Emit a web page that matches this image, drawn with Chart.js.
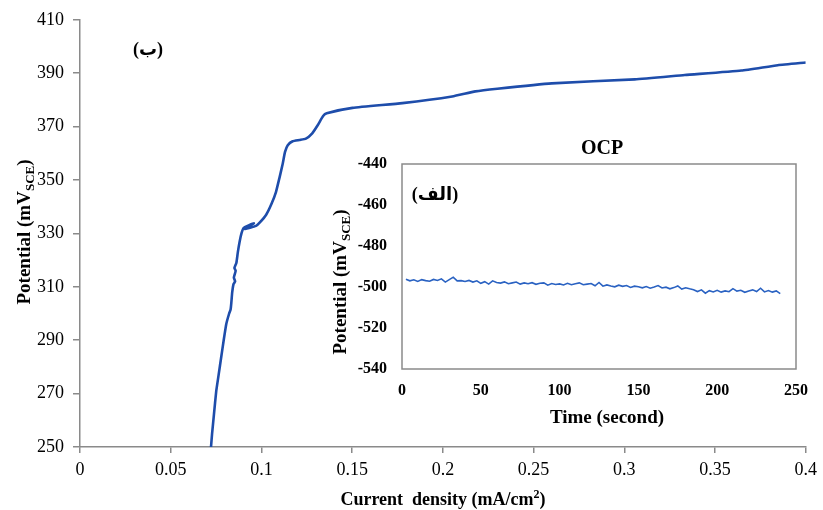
<!DOCTYPE html>
<html>
<head>
<meta charset="utf-8">
<script src="https://cdn.jsdelivr.net/npm/chart.js@4.4.1/dist/chart.umd.min.js"></script>
<style>
  html, body { margin: 0; padding: 0; background: #fff; }
  #wrap { position: relative; width: 823px; height: 510px; background: #fff; }
  #main { position: absolute; left: 0; top: 0; }
  #inset { position: absolute; left: 320px; top: 125px; }
</style>
</head>
<body>
<div id="wrap">
  <canvas id="main" width="823" height="510"></canvas>
  <canvas id="inset" width="500" height="310"></canvas>
</div>
<script>
// ---------- Main polarization curve (ب) ----------
const currentDensity = [
  0.0722, 0.0728, 0.0738, 0.0751, 0.0764, 0.0778, 0.0792, 0.0806, 0.0822, 0.0830,
  0.0834, 0.0839, 0.0846, 0.0855, 0.0848, 0.0858, 0.0851, 0.0862, 0.0870, 0.0880,
  0.0890, 0.0902, 0.0958, 0.0910, 0.0970, 0.0990, 0.1026, 0.1055, 0.1080, 0.1100,
  0.1117, 0.1130, 0.1145, 0.1172, 0.1210, 0.1245, 0.1280, 0.1310, 0.1340, 0.1360,
  0.1502, 0.1777, 0.2051, 0.2179, 0.2300, 0.2600, 0.3058, 0.3333, 0.3645, 0.3846,
  0.4000
];
const potential = [
  250.0, 255.0, 262.0, 271.0, 277.0, 283.5, 290.0, 296.0, 300.0, 301.5,
  304.0, 308.0, 311.0, 312.0, 313.5, 316.0, 317.0, 319.0, 323.0, 327.0,
  330.0, 332.0, 333.8, 331.6, 332.8, 334.0, 337.0, 341.0, 345.5, 351.0,
  356.0, 360.5, 363.0, 364.5, 365.0, 365.5, 367.5, 370.5, 374.0, 375.0,
  377.0, 378.8, 381.3, 383.2, 384.2, 386.2, 387.7, 389.3, 391.0, 393.0,
  394.0
];
const mainXTicks = [0, 0.05, 0.1, 0.15, 0.2, 0.25, 0.3, 0.35, 0.4];
const mainYTicks = [250, 270, 290, 310, 330, 350, 370, 390, 410];

// ---------- Inset OCP curve (الف) ----------
const ocpTime = [
  2.5, 5, 7.5, 10, 12.5, 15, 17.5, 20, 22.5, 25, 27.5, 30, 32.5, 35, 37.5, 40,
  42.5, 45, 47.5, 50, 52.5, 55, 57.5, 60, 62.5, 65, 67.5, 70, 72.5, 75, 77.5, 80,
  82.5, 85, 87.5, 90, 92.5, 95, 97.5, 100, 102.5, 105, 107.5, 110, 112.5, 115, 117.5, 120,
  122.5, 125, 127.5, 130, 132.5, 135, 137.5, 140, 142.5, 145, 147.5, 150, 152.5, 155, 157.5, 160,
  162.5, 165, 167.5, 170, 172.5, 175, 177.5, 180, 182.5, 185, 187.5, 190, 192.5, 195, 197.5, 200,
  202.5, 205, 207.5, 210, 212.5, 215, 217.5, 220, 222.5, 225, 227.5, 230, 232.5, 235, 237.5, 240
];
const ocpPotential = [
  -496.2, -497.0, -496.5, -497.3, -496.4, -496.9, -497.2, -496.3, -496.8, -496.0, -497.6, -496.4, -495.2, -497.0, -496.9, -497.3,
  -496.8, -497.6, -497.0, -498.2, -497.4, -498.6, -497.0, -497.8, -498.1, -497.5, -498.4, -498.0, -497.6, -498.6, -498.0, -498.4,
  -497.9, -498.7, -498.2, -498.0, -499.1, -498.3, -498.8, -498.5, -499.0, -498.2, -498.9, -498.4, -498.0, -498.9, -498.6, -498.3,
  -499.4, -497.8, -499.6, -499.0, -499.5, -499.9, -499.1, -499.7, -499.3, -500.2, -499.6, -499.9, -500.4, -499.8, -500.6, -500.0,
  -499.3, -500.5, -500.1, -500.9, -500.3, -499.5, -501.0, -500.4, -500.9, -501.3, -502.2, -501.4, -503.0, -501.8, -502.4, -501.6,
  -502.5, -501.9, -502.3, -500.8, -502.0, -501.6, -502.6, -501.9, -501.4, -502.2, -500.6, -502.4, -501.7, -502.5, -501.9, -503.2
];
const insetXTicks = [0, 50, 100, 150, 200, 250];
const insetYTicks = [-540, -520, -500, -480, -460, -440];

const SERIF = "'Liberation Serif', 'Times New Roman', 'DejaVu Serif', serif";
const AR = "'Liberation Serif', 'DejaVu Sans', 'Noto Sans', sans-serif";
const AXIS_GRAY = '#8a8a8a';

function toPoints(xs, ys) { return xs.map((x, i) => ({ x: x, y: ys[i] })); }
function fixedTicks(list) { return function (scale) { scale.ticks = list.map(v => ({ value: v })); }; }

// draw text made of parts (with sub/superscripts), centered on cx, baseline at by
function drawRich(ctx, parts, cx, by, rot) {
  ctx.save();
  ctx.translate(cx, by);
  if (rot) ctx.rotate(rot);
  let total = 0;
  parts.forEach(p => { ctx.font = p.font; p.w = ctx.measureText(p.t).width; total += p.w; });
  let x = -total / 2;
  ctx.fillStyle = '#000';
  ctx.textBaseline = 'alphabetic';
  ctx.textAlign = 'left';
  parts.forEach(p => { ctx.font = p.font; ctx.fillText(p.t, x, p.dy || 0); x += p.w; });
  ctx.restore();
}

const mainTexts = {
  id: 'mainTexts',
  afterDraw(chart) {
    const ctx = chart.ctx;
    drawRich(ctx, [
      { t: 'Current  density (mA/cm', font: 'bold 18px ' + SERIF },
      { t: '2', font: 'bold 12px ' + SERIF, dy: -7 },
      { t: ')', font: 'bold 18px ' + SERIF }
    ], 443, 505, 0);
    drawRich(ctx, [
      { t: 'Potential (mV', font: 'bold 19px ' + SERIF },
      { t: 'SCE', font: 'bold 13px ' + SERIF, dy: 4 },
      { t: ')', font: 'bold 19px ' + SERIF }
    ], 30, 232, -Math.PI / 2);
    ctx.save();
    ctx.font = 'bold 18px ' + AR;
    ctx.fillStyle = '#000';
    ctx.textAlign = 'center';
    ctx.textBaseline = 'middle';
    ctx.fillText('(ب)', 148, 50);
    ctx.restore();
  }
};

new Chart(document.getElementById('main'), {
  type: 'scatter',
  data: {
    datasets: [{
      data: toPoints(currentDensity, potential),
      showLine: true,
      borderColor: '#1e4dab',
      borderWidth: 2.6,
      pointRadius: 0,
      tension: 0.15,
      fill: false
    }]
  },
  options: {
    responsive: false,
    animation: false,
    devicePixelRatio: 1,
    layout: { padding: { left: 0, right: 15, top: 16, bottom: 0 } },
    plugins: { legend: { display: false }, tooltip: { enabled: false } },
    scales: {
      x: {
        type: 'linear', min: 0, max: 0.4,
        afterBuildTicks: fixedTicks(mainXTicks),
        afterFit(s) { s.height = 63; },
        ticks: {
          color: '#000', padding: 6, maxRotation: 0, autoSkip: false,
          font: { family: SERIF, size: 18 },
          callback: v => String(Math.round(v * 100) / 100)
        },
        grid: { drawOnChartArea: false, drawTicks: true, tickLength: 6, color: AXIS_GRAY, lineWidth: 1.5 },
        border: { display: true, color: AXIS_GRAY, width: 1.5 }
      },
      y: {
        type: 'linear', min: 250, max: 410,
        afterBuildTicks: fixedTicks(mainYTicks),
        afterFit(s) { s.width = 80; },
        ticks: { color: '#000', padding: 9, autoSkip: false, font: { family: SERIF, size: 18 } },
        grid: { drawOnChartArea: false, drawTicks: true, tickLength: 7, color: AXIS_GRAY, lineWidth: 1.5 },
        border: { display: true, color: AXIS_GRAY, width: 1.5 }
      }
    }
  },
  plugins: [mainTexts]
});

const insetTexts = {
  id: 'insetTexts',
  beforeDatasetsDraw(chart) {
    const a = chart.chartArea, ctx = chart.ctx;
    ctx.save();
    ctx.strokeStyle = AXIS_GRAY;
    ctx.lineWidth = 1.5;
    ctx.strokeRect(a.left, a.top, a.right - a.left, a.bottom - a.top);
    ctx.restore();
  },
  afterDraw(chart) {
    const ctx = chart.ctx;
    drawRich(ctx, [{ t: 'OCP', font: 'bold 20px ' + SERIF }], 282, 29, 0);
    drawRich(ctx, [{ t: 'Time (second)', font: 'bold 19px ' + SERIF }], 287, 298, 0);
    drawRich(ctx, [
      { t: 'Potential (mV', font: 'bold 19px ' + SERIF },
      { t: 'SCE', font: 'bold 13px ' + SERIF, dy: 4 },
      { t: ')', font: 'bold 19px ' + SERIF }
    ], 26, 157, -Math.PI / 2);
    ctx.save();
    ctx.font = 'bold 18px ' + AR;
    ctx.fillStyle = '#000';
    ctx.textAlign = 'center';
    ctx.textBaseline = 'middle';
    ctx.fillText('(الف)', 115, 70);
    ctx.restore();
  }
};

new Chart(document.getElementById('inset'), {
  type: 'scatter',
  data: {
    datasets: [{
      data: toPoints(ocpTime, ocpPotential),
      showLine: true,
      borderColor: '#2a62c2',
      borderWidth: 1.6,
      pointRadius: 0,
      tension: 0,
      fill: false
    }]
  },
  options: {
    responsive: false,
    animation: false,
    devicePixelRatio: 1,
    layout: { padding: { left: 0, right: 22, top: 39, bottom: 0 } },
    plugins: { legend: { display: false }, tooltip: { enabled: false } },
    scales: {
      x: {
        type: 'linear', min: 0, max: 250,
        afterBuildTicks: fixedTicks(insetXTicks),
        afterFit(s) { s.height = 66; },
        ticks: { color: '#000', padding: 12, maxRotation: 0, autoSkip: false, font: { family: SERIF, size: 16, weight: 'bold' } },
        grid: { display: false, drawTicks: false },
        border: { display: false }
      },
      y: {
        type: 'linear', min: -540, max: -440,
        afterBuildTicks: fixedTicks(insetYTicks),
        afterFit(s) { s.width = 82; },
        ticks: { color: '#000', padding: 15, autoSkip: false, font: { family: SERIF, size: 16, weight: 'bold' } },
        grid: { display: false, drawTicks: false },
        border: { display: false }
      }
    }
  },
  plugins: [insetTexts]
});
</script>
</body>
</html>
